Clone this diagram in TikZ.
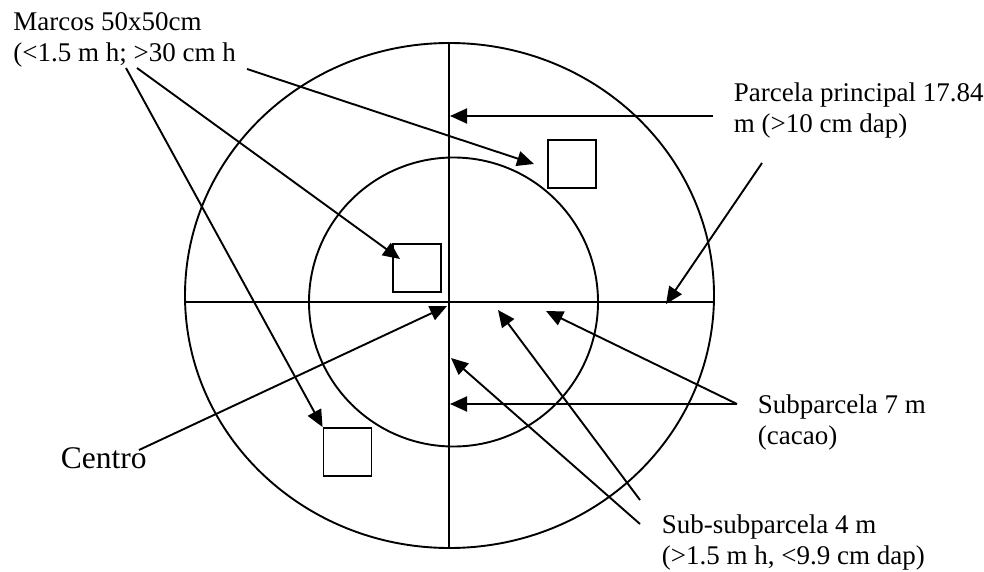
\documentclass[tikz,border=0pt]{standalone}
\usepackage{fontspec}
\setmainfont{Liberation Serif}
\usetikzlibrary{arrows.meta}
\tikzstyle{marco} = [draw, line width=1.9pt, minimum size=48pt, inner sep=0pt]
\tikzstyle{etiqueta} = [anchor=base west, align=left, inner sep=0pt, font=\fontsize{27}{31}\selectfont]
\tikzstyle{flecha} = [-{Triangle[length=17pt,width=15pt]}, line width=1.9pt]

\begin{document}
\begin{tikzpicture}[x=1pt, y=-1pt, line width=1.9pt]
            \useasboundingbox (0,0) rectangle (984,572);

            \draw (449.5,295.5) ellipse [x radius=264.5, y radius=252.5];
            \draw (453.5,302) circle [radius=144.5];
            \draw (449,43) -- (449,548);
            \draw (185,302) -- (714,302);

            \node[marco]    (mA)    at (572,  164)   {};
            \node[marco]    (mB)    at (417,  268)   {};
            \node[marco]    (mC)    at (347.5,452)   {};

            \node[etiqueta] (marcos)    at ( 12.5, 61.5) {Marcos 50x50cm\\(<1.5 m h; >30 cm h};
            \node[etiqueta] (parcela)   at (733,  133)   {Parcela principal 17.84\\m (>10 cm dap)};
            \node[etiqueta] (sub)       at (757,  444)   {Subparcela 7 m\\(cacao)};
            \node[etiqueta] (subsub)    at (661,  564)   {Sub-subparcela 4 m\\(>1.5 m h, <9.9 cm dap)};
            \node[etiqueta, font=\fontsize{31.5}{38}\selectfont] (centro) at (60, 468) {Centro};

            \coordinate (m1) at (126, 68);
            \coordinate (m2) at (137, 68);
            \coordinate (m3) at (247, 69);
            \coordinate (p1) at (713, 116);
            \coordinate (p2) at (762, 163);
            \coordinate (c1) at (139, 450);
            \coordinate (s1) at (737, 404);
            \coordinate (ss1) at (640, 524);
            \coordinate (ss2) at (640, 500);

            \coordinate (tB) at (400, 259);
            \coordinate (tA) at (534, 164);
            \coordinate (tP1) at (450, 116);
            \coordinate (tP2) at (666, 304);
            \coordinate (tC) at (447, 306);
            \coordinate (tS1) at (450, 404);
            \coordinate (tS2) at (546, 311);
            \coordinate (tSS1) at (451, 358);
            \coordinate (tSS2) at (498, 310);

            \draw[flecha] (m1) -- (mC.north west);
            \draw[flecha] (m2) -- (tB);
            \draw[flecha] (m3) -- (tA);
            \draw[flecha] (p1) -- (tP1);
            \draw[flecha] (p2) -- (tP2);
            \draw[flecha] (c1) -- (tC);
            \draw[flecha] (s1) -- (tS1);
            \draw[flecha] (s1) -- (tS2);
            \draw[flecha] (ss1) -- (tSS1);
            \draw[flecha] (ss2) -- (tSS2);
        \end{tikzpicture}
\end{document}
